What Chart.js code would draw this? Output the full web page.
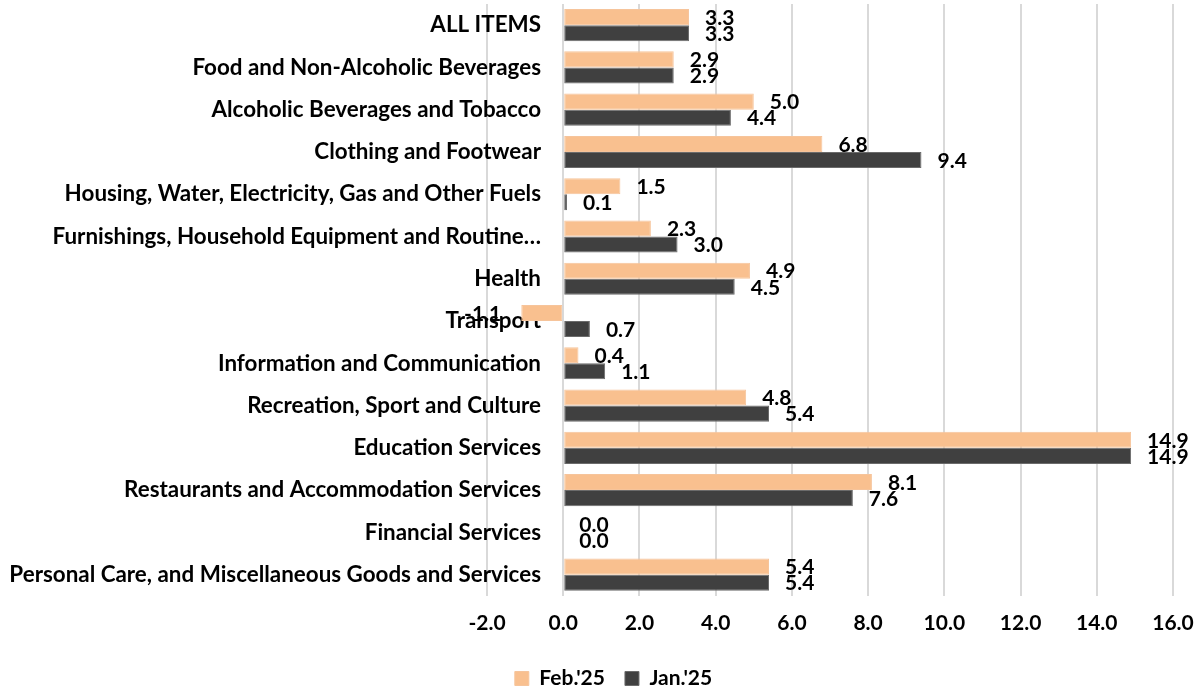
<!DOCTYPE html>
<html>
<head>
<meta charset="utf-8">
<script src="https://cdn.jsdelivr.net/npm/chart.js@4.4.1/dist/chart.umd.min.js"></script>
<style>
html,body{margin:0;padding:0;background:#fff;}
#wrap{width:1204px;height:691px;position:relative;}
</style>
</head>
<body>
<div id="wrap"><canvas id="c"></canvas></div>
<script>
const categories = [
  "ALL ITEMS",
  "Food and Non-Alcoholic Beverages",
  "Alcoholic Beverages and Tobacco",
  "Clothing and Footwear",
  "Housing, Water, Electricity, Gas and Other Fuels",
  "Furnishings, Household Equipment and Routine…",
  "Health",
  "Transport",
  "Information and Communication",
  "Recreation, Sport and Culture",
  "Education Services",
  "Restaurants and Accommodation Services",
  "Financial Services",
  "Personal Care, and Miscellaneous Goods and Services"
];
const feb25 = [3.3, 2.9, 5.0, 6.8, 1.5, 2.3, 4.9, -1.1, 0.4, 4.8, 14.9, 8.1, 0.0, 5.4];
const jan25 = [3.3, 2.9, 4.4, 9.4, 0.1, 3.0, 4.5, 0.7, 1.1, 5.4, 14.9, 7.6, 0.0, 5.4];
const seriesNames = ["Feb.'25", "Jan.'25"];
const xTicks = [-2, 0, 2, 4, 6, 8, 10, 12, 14, 16];

const FONT = "Lato";

const dataLabels = {
  id: 'dataLabels',
  afterDatasetsDraw(chart) {
    const ctx = chart.ctx;
    ctx.save();
    ctx.font = "bold 21px " + FONT;
    ctx.fillStyle = "#000";
    ctx.textBaseline = "middle";
    chart.data.datasets.forEach((ds, di) => {
      const meta = chart.getDatasetMeta(di);
      meta.data.forEach((el, i) => {
        const v = ds.data[i];
        const txt = v.toFixed(1);
        if (v < 0) {
          ctx.textAlign = "right";
          ctx.fillText(txt, el.x - 20, el.y + 1);
        } else {
          ctx.textAlign = "left";
          ctx.fillText(txt, el.x + 16, el.y + 1);
        }
      });
    });
    ctx.restore();
  }
};

new Chart(document.getElementById('c'), {
  type: 'bar',
  data: {
    labels: categories,
    datasets: [
      { label: seriesNames[0], data: feb25, backgroundColor: '#F9C08F', borderColor: '#F6C49B', borderWidth: 1, borderSkipped: false },
      { label: seriesNames[1], data: jan25, backgroundColor: '#404040', borderColor: '#6b6b6b', borderWidth: 1, borderSkipped: false }
    ]
  },
  options: {
    indexAxis: 'y',
    responsive: true,
    maintainAspectRatio: false,
    animation: false,
    devicePixelRatio: 1,
    layout: { padding: { top: 4, right: 31, left: 54, bottom: -8 } },
    datasets: { bar: { categoryPercentage: 0.76, barPercentage: 1.0 } },
    scales: {
      x: {
        min: -2, max: 16,
        afterBuildTicks(scale) { scale.ticks = xTicks.map(v => ({ value: v })); },
        afterFit(scale) { scale.height -= 3; scale.paddingRight = 0; scale.paddingLeft = 0; },
        grid: { color: '#d9d9d9', lineWidth: 2, drawTicks: false },
        border: { display: false },
        ticks: {
          padding: 15,
          color: '#000',
          font: { family: FONT, size: 21, weight: 'bold' },
          callback: (v) => Number(v).toFixed(1)
        }
      },
      y: {
        z: 1,
        grid: { display: false, drawTicks: false },
        border: { display: false },
        afterFit(scale) {
          scale.width = 433;
          scale._computeLabelArea = function () { return undefined; };
        },
        ticks: {
          padding: -54,
          autoSkip: false,
          color: '#000',
          font: { family: FONT, size: 22.4, weight: 'bold' }
        }
      }
    },
    plugins: {
      legend: {
        position: 'bottom',
        labels: {
          boxWidth: 14, boxHeight: 14,
          color: '#000',
          padding: 20,
          font: { family: FONT, size: 21, weight: 'bold' }
        }
      },
      tooltip: { enabled: false }
    }
  },
  plugins: [dataLabels]
});
</script>
</body>
</html>
